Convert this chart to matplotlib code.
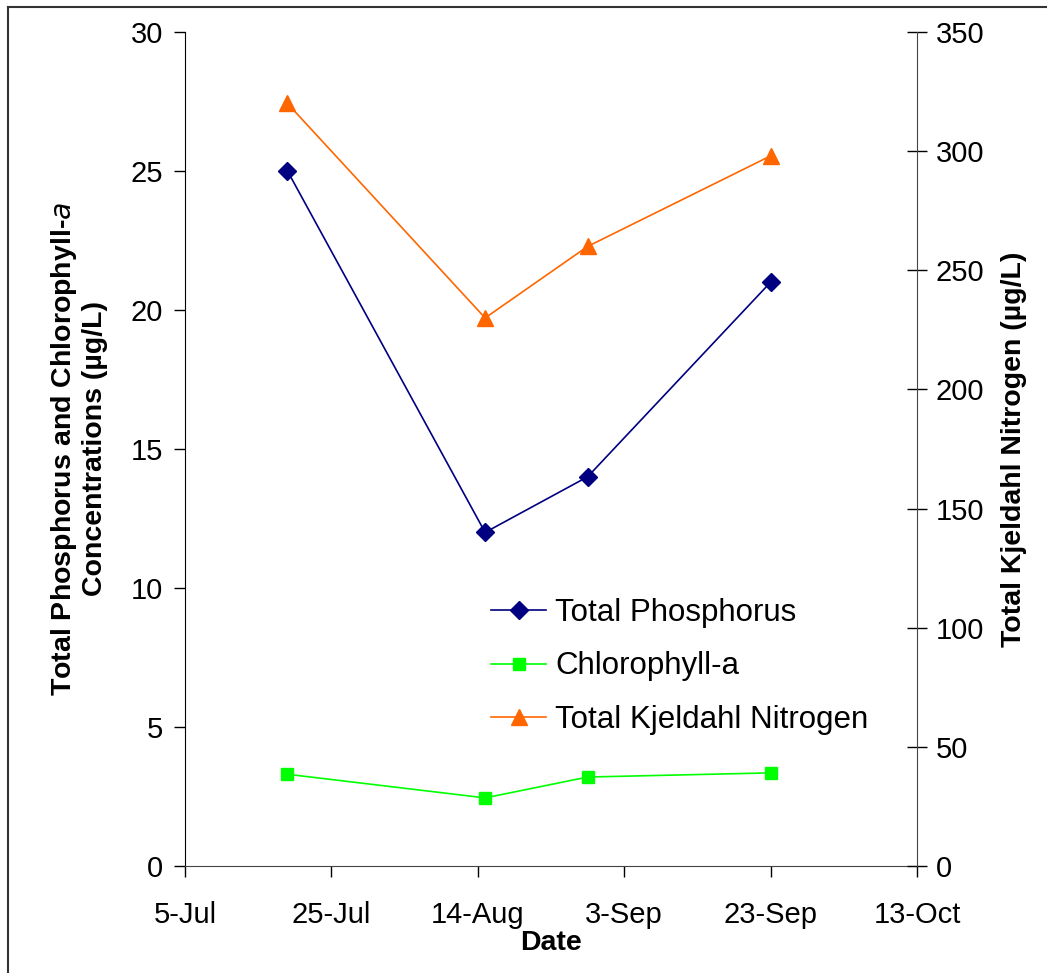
import numpy as np
import matplotlib.pyplot as plt
import matplotlib.dates as mdates
from matplotlib.lines import Line2D
import datetime as dt

plt.rcParams['font.family'] = ['Liberation Sans', 'DejaVu Sans']

dates = [dt.date(2007, 7, 19), dt.date(2007, 8, 15), dt.date(2007, 8, 29), dt.date(2007, 9, 23)]
tp = [25, 12, 14, 21]
chl = [3.3, 2.45, 3.2, 3.35]
tkn = [320, 230, 260, 298]
xticks = [dt.date(2007, 7, 5) + dt.timedelta(days=20 * i) for i in range(6)]

fig = plt.figure(figsize=(10.47, 9.73), dpi=100)
ax = fig.add_axes([185/1047, 107/973, 732/1047, 834/973])
ax2 = ax.twinx()

l1, = ax.plot(dates, tp, color='#000080', marker='D', markersize=9, lw=1.2, label='Total Phosphorus')
l2, = ax.plot(dates, chl, color='#00FF00', marker='s', markersize=8, lw=1.2, label='Chlorophyll-a')
l3, = ax2.plot(dates, tkn, color='#FF6600', marker='^', markersize=11, lw=1.2, label='Total Kjeldahl Nitrogen')

ax.set_xlim(xticks[0], xticks[-1])
ax.set_xticks(xticks)
ax.xaxis.set_major_formatter(mdates.DateFormatter('%-d-%b'))
ax.set_ylim(0, 30)
ax.set_yticks(range(0, 31, 5))
ax2.set_ylim(0, 350)
ax2.set_yticks(range(0, 351, 50))

for a in (ax, ax2):
    a.spines['top'].set_visible(False)
    a.spines['right'].set_visible(False)
    a.patch.set_visible(False)
ax2.spines['left'].set_visible(False)
ax2.spines['bottom'].set_visible(False)
ax2.spines['right'].set_visible(True)
ax2.spines['right'].set_color('#444444')
ax.spines['left'].set_color('black')
ax.spines['bottom'].set_color('#444444')

ax.tick_params(axis='y', labelsize=21, length=8, width=1, direction='out', pad=8)
ax.tick_params(axis='x', labelsize=21, length=8, width=1, direction='out', pad=17)
ax2.tick_params(axis='y', labelsize=21, length=15, width=1, direction='inout', pad=6, colors='black')

ax.set_xlabel('Date', fontsize=20.5, fontweight='bold', labelpad=1)
ax.set_ylabel('Total Phosphorus and Chlorophyll-$\\mathbf{\\mathit{a}}$\nConcentrations (µg/L)',
              fontsize=20.5, fontweight='bold', labelpad=16, linespacing=1.15)
ax2.set_ylabel('Total Kjeldahl Nitrogen (µg/L)', fontsize=20.5, fontweight='bold', labelpad=12)

ax.legend(handles=[l1, l2, l3], loc='upper left', bbox_to_anchor=(0.38, 0.355),
          frameon=False, fontsize=22.5, handlelength=1.75, handletextpad=0.3, labelspacing=0.75)

fig.add_artist(Line2D([8/1047, 8/1047], [0, 1 - 7/973], transform=fig.transFigure, color='#333333', lw=1.5))
fig.add_artist(Line2D([8/1047, 1], [1 - 7/973, 1 - 7/973], transform=fig.transFigure, color='#333333', lw=1.5))

fig.savefig('out.png', dpi=100)
